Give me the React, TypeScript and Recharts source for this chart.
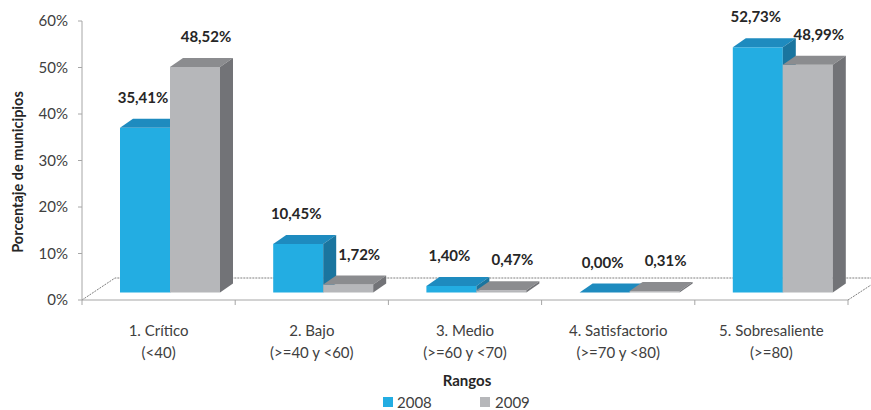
import { BarChart, Bar, XAxis, YAxis, LabelList, Customized } from "recharts";

const categories = ["1. Crítico", "2. Bajo", "3. Medio", "4. Satisfactorio", "5. Sobresaliente"];
const ranges = ["(<40)", "(>=40 y <60)", "(>=60 y <70)", "(>=70 y <80)", "(>=80)"];
const values2008 = [35.41, 10.45, 1.4, 0.0, 52.73];
const values2009 = [48.52, 1.72, 0.47, 0.31, 48.99];
const yTicks = [0, 10, 20, 30, 40, 50, 60];

const data = categories.map((cat, i) => ({
  cat,
  y2008: values2008[i],
  y2009: values2009[i],
}));

const W = 871;
const H = 410;
const PLOT_LEFT = 82;
const PLOT_RIGHT = 848;
const PLOT_TOP = 21;
const PLOT_BOTTOM = 300;
const BAND = (PLOT_RIGHT - PLOT_LEFT) / categories.length;

// 3d offsets
const SHIFT_X = 11;
const SHIFT_Y = -7.5;
const DEPTH_X = 13;
const DEPTH_Y = 9;

const axisColor = "#a6a6a6";
const textColor = "#404040";

const blue = { front: "#23ade2", top: "#1e8bbf", side: "#1a759f" };
const gray = { front: "#b6b7ba", top: "#8b8c8f", side: "#727377" };

const fmt = (v: number) => v.toFixed(2).replace(".", ",") + "%";

const make3dBar = (c: { front: string; top: string; side: string }) => (props: any) => {
  const { x, y, width, height } = props;
  const fx = x + SHIFT_X;
  const fy = y + SHIFT_Y;
  const h = Math.max(height, 0);
  return (
    <g>
      <rect x={fx} y={fy} width={width} height={h} fill={c.front} />
      <polygon
        points={`${fx},${fy} ${fx + DEPTH_X},${fy - DEPTH_Y} ${fx + width + DEPTH_X},${fy - DEPTH_Y} ${fx + width},${fy}`}
        fill={c.top}
      />
      <polygon
        points={`${fx + width},${fy} ${fx + width + DEPTH_X},${fy - DEPTH_Y} ${fx + width + DEPTH_X},${fy + h - DEPTH_Y} ${fx + width},${fy + h}`}
        fill={c.side}
      />
    </g>
  );
};

const makeLabel = (dx: number) => (props: any) => {
  const { x, y, width, value } = props;
  return (
    <text
      x={x + width / 2 + SHIFT_X + dx}
      y={y + SHIFT_Y - 30 + 5}
      textAnchor="middle"
      fontSize={15}
      fontWeight="bold"
      fill="#262626"
    >
      {fmt(value)}
    </text>
  );
};

const CategoryTick = ({ x, payload }: any) => {
  const i = categories.indexOf(payload.value);
  return (
    <g>
      <line x1={x - BAND / 2} x2={x - BAND / 2} y1={PLOT_BOTTOM} y2={PLOT_BOTTOM + 5} stroke={axisColor} />
      {i === categories.length - 1 && (
        <line x1={x + BAND / 2} x2={x + BAND / 2} y1={PLOT_BOTTOM} y2={PLOT_BOTTOM + 5} stroke={axisColor} />
      )}
      <text x={x} y={PLOT_BOTTOM + 36} textAnchor="middle" fontSize={15} fill={textColor}>
        {payload.value}
      </text>
      <text x={x} y={PLOT_BOTTOM + 58} textAnchor="middle" fontSize={15} fill={textColor}>
        {ranges[i]}
      </text>
    </g>
  );
};

const Floor = () => (
  <g>
    <polyline
      points={`${PLOT_LEFT},${PLOT_BOTTOM} ${PLOT_LEFT + 33},${PLOT_BOTTOM - 22} ${W},${PLOT_BOTTOM - 22}`}
      fill="none"
      stroke="#7f7f7f"
      strokeDasharray="2 1"
    />
    <line x1={PLOT_RIGHT} y1={PLOT_BOTTOM} x2={W} y2={PLOT_BOTTOM - 15} stroke="#7f7f7f" strokeDasharray="2 1" />
  </g>
);

const Extras = () => (
  <g>
    <text
      x={0}
      y={0}
      transform="translate(23 172) rotate(-90)"
      textAnchor="middle"
      fontSize={14.5}
      fontWeight="bold"
      fill="#262626"
    >
      Porcentaje de municipios
    </text>
    <text x={467} y={386} textAnchor="middle" fontSize={15} fontWeight="bold" fill="#262626">
      Rangos
    </text>
    <rect x={383} y={397} width={10} height={10} fill={blue.front} />
    <text x={397} y={408} fontSize={15} fill={textColor}>2008</text>
    <rect x={480} y={397} width={10} height={10} fill={gray.front} />
    <text x={495} y={408} fontSize={15} fill={textColor}>2009</text>
  </g>
);

export default function App() {
  return (
    <div style={{ position: "absolute", left: 0, top: 0, width: W, height: H, background: "#fff", fontFamily: "Lato, sans-serif" }}>
      <BarChart
        width={W}
        height={H}
        data={data}
        margin={{ top: PLOT_TOP, right: W - PLOT_RIGHT, bottom: 50, left: 22 }}
        barSize={50}
        barGap={0}
      >
        <Customized component={Floor} />
        <XAxis
          dataKey="cat"
          height={60}
          stroke={axisColor}
          tickLine={false}
          interval={0}
          tick={<CategoryTick />}
        />
        <YAxis
          width={60}
          domain={[0, 60]}
          ticks={yTicks}
          tickFormatter={(v: number) => `${v}%`}
          stroke={axisColor}
          tickSize={4}
          tickMargin={10}
          tick={{ fill: textColor, fontSize: 15 }}
        />
        <Bar dataKey="y2008" isAnimationActive={false} shape={make3dBar(blue)}>
          <LabelList dataKey="y2008" content={makeLabel(-2)} />
        </Bar>
        <Bar dataKey="y2009" isAnimationActive={false} shape={make3dBar(gray)}>
          <LabelList dataKey="y2009" content={makeLabel(11)} />
        </Bar>
        <Customized component={Extras} />
      </BarChart>
    </div>
  );
}
